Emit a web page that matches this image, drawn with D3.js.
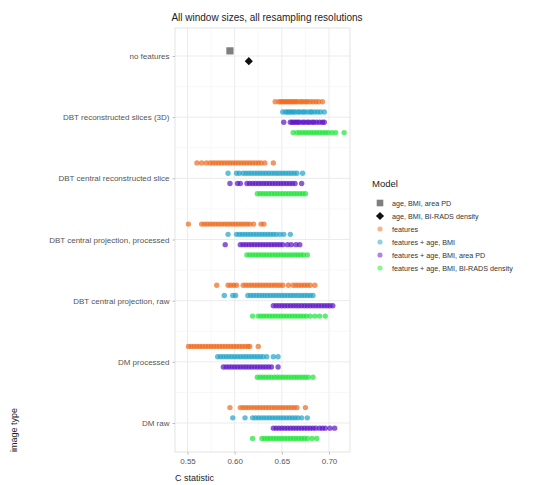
<!DOCTYPE html>
<html>
<head>
<meta charset="utf-8">
<script src="https://cdn.jsdelivr.net/npm/d3@7"></script>
<style>
  html, body { margin: 0; padding: 0; background: #fff; }
  svg { display: block; font-family: "Liberation Sans", Arial, sans-serif; }
</style>
</head>
<body>
<svg id="chart" width="551" height="485"></svg>
<script>
// Image types, top to bottom
const categories = [
  "no features",
  "DBT reconstructed slices (3D)",
  "DBT central reconstructed slice",
  "DBT central projection, processed",
  "DBT central projection, raw",
  "DM processed",
  "DM raw"
];

const modelNames = [
  "age, BMI, area PD",
  "age, BMI, BI-RADS density",
  "features",
  "features + age, BMI",
  "features + age, BMI, area PD",
  "features + age, BMI, BI-RADS density"
];
const modelColors = ["#7f7f7f", "#111111", "#ee6a1c", "#1fa3c9", "#5b12c7", "#1be534"];

const xTicks = [0.55, 0.60, 0.65, 0.70];

// Baseline models without image features
const baseAreaPD = [0.595];
const baseBIRADS = [0.615];

// C statistics per image type (rows 2..7), one value per window size / resampling resolution
const features = [
  [0.643,0.647,0.649,0.651,0.653,0.655,0.657,0.659,0.661,0.663,0.665,0.667,0.670,0.672,0.675,0.677,0.680,0.683,0.686,0.689,0.693],
  [0.560,0.565,0.570,0.574,0.577,0.580,0.583,0.586,0.589,0.592,0.595,0.598,0.601,0.604,0.607,0.610,0.613,0.616,0.619,0.622,0.625,0.628,0.632,0.641],
  [0.551,0.565,0.568,0.571,0.574,0.577,0.580,0.583,0.586,0.589,0.592,0.595,0.598,0.601,0.604,0.607,0.610,0.613,0.616,0.620,0.628,0.631],
  [0.581,0.593,0.596,0.599,0.602,0.609,0.612,0.615,0.618,0.621,0.624,0.627,0.630,0.633,0.636,0.639,0.642,0.645,0.648,0.651,0.657,0.662,0.665,0.668,0.671,0.674,0.677,0.680,0.685],
  [0.551,0.554,0.557,0.560,0.563,0.566,0.569,0.572,0.575,0.578,0.581,0.584,0.587,0.590,0.593,0.596,0.599,0.602,0.605,0.608,0.611,0.614,0.616,0.625],
  [0.595,0.606,0.609,0.612,0.615,0.618,0.621,0.624,0.627,0.630,0.633,0.636,0.639,0.642,0.645,0.648,0.651,0.654,0.657,0.660,0.663,0.666,0.675]
];
const featAgeBMI = [
  [0.651,0.654,0.656,0.658,0.660,0.662,0.664,0.667,0.669,0.672,0.674,0.677,0.680,0.682,0.685,0.688,0.691,0.695],
  [0.593,0.602,0.605,0.609,0.612,0.615,0.618,0.621,0.624,0.627,0.630,0.633,0.636,0.639,0.642,0.645,0.648,0.651,0.654,0.657,0.660,0.663,0.666,0.672],
  [0.593,0.602,0.605,0.608,0.611,0.614,0.617,0.620,0.623,0.626,0.629,0.632,0.635,0.638,0.641,0.644,0.648,0.652,0.659],
  [0.589,0.598,0.601,0.614,0.617,0.620,0.623,0.626,0.629,0.632,0.635,0.638,0.641,0.644,0.647,0.650,0.653,0.656,0.659,0.662,0.665,0.668,0.671,0.674,0.677,0.680,0.683],
  [0.582,0.585,0.588,0.591,0.594,0.597,0.600,0.603,0.606,0.609,0.612,0.615,0.618,0.621,0.624,0.627,0.630,0.634,0.641,0.646],
  [0.598,0.611,0.619,0.622,0.625,0.628,0.631,0.634,0.637,0.640,0.643,0.646,0.649,0.652,0.655,0.658,0.661,0.664,0.667,0.671,0.677]
];
const featAgeBMIAreaPD = [
  [0.652,0.659,0.661,0.663,0.665,0.667,0.669,0.672,0.674,0.677,0.679,0.682,0.684,0.687,0.690,0.693,0.695],
  [0.595,0.603,0.606,0.613,0.616,0.619,0.622,0.625,0.628,0.631,0.634,0.637,0.640,0.643,0.646,0.649,0.652,0.655,0.658,0.661,0.664,0.671],
  [0.590,0.606,0.609,0.612,0.615,0.618,0.621,0.624,0.627,0.630,0.633,0.636,0.639,0.642,0.645,0.648,0.651,0.656,0.660,0.665,0.669],
  [0.641,0.644,0.647,0.650,0.653,0.656,0.659,0.662,0.665,0.668,0.671,0.674,0.677,0.680,0.683,0.686,0.689,0.692,0.695,0.698,0.701,0.704],
  [0.588,0.591,0.594,0.597,0.600,0.603,0.606,0.609,0.612,0.615,0.618,0.621,0.624,0.627,0.630,0.633,0.636,0.639,0.646],
  [0.641,0.644,0.647,0.650,0.653,0.656,0.659,0.662,0.665,0.668,0.671,0.674,0.677,0.680,0.683,0.686,0.690,0.693,0.696,0.701,0.706]
];
const featAgeBMIBIRADS = [
  [0.662,0.666,0.669,0.672,0.675,0.678,0.681,0.684,0.687,0.690,0.693,0.696,0.699,0.703,0.707,0.716],
  [0.624,0.627,0.630,0.633,0.636,0.639,0.642,0.645,0.648,0.651,0.654,0.657,0.660,0.663,0.666,0.669,0.672,0.675],
  [0.613,0.616,0.619,0.622,0.625,0.628,0.631,0.634,0.637,0.640,0.643,0.646,0.649,0.652,0.655,0.658,0.661,0.664,0.667,0.670,0.673,0.677],
  [0.619,0.625,0.628,0.631,0.634,0.637,0.640,0.643,0.646,0.649,0.652,0.655,0.658,0.661,0.664,0.667,0.670,0.673,0.676,0.680,0.685,0.690,0.696],
  [0.624,0.627,0.630,0.633,0.636,0.639,0.642,0.645,0.648,0.651,0.654,0.657,0.660,0.663,0.666,0.669,0.672,0.675,0.678,0.683],
  [0.619,0.629,0.632,0.635,0.638,0.641,0.644,0.647,0.650,0.653,0.656,0.659,0.662,0.665,0.668,0.671,0.674,0.677,0.682,0.687]
];

// Long-format table: one row per point
const rows = [];
baseAreaPD.forEach(v => rows.push({cat: categories[0], model: 0, slot: 0, n: 2, v}));
baseBIRADS.forEach(v => rows.push({cat: categories[0], model: 1, slot: 1, n: 2, v}));
[features, featAgeBMI, featAgeBMIAreaPD, featAgeBMIBIRADS].forEach((series, m) => {
  series.forEach((vals, ci) => {
    vals.forEach(v => rows.push({cat: categories[ci + 1], model: m + 2, slot: m, n: 4, v}));
  });
});

const svg = d3.select("#chart");
const panel = {left: 175, right: 350, top: 28, bottom: 452};

const x = d3.scaleLinear().domain([0.55, 0.70]).range([187.5, 329]);
const y = d3.scalePoint().domain(categories).range([56, 423]);
const slotW = y.step() * 0.168;
const yPos = d => y(d.cat) + (d.slot - (d.n - 1) / 2) * slotW;

// Panel border and grid
const g = svg.append("g");
const minorX = [0.575, 0.625, 0.675];
g.selectAll("line.minx").data(minorX).join("line")
  .attr("x1", d => x(d)).attr("x2", d => x(d))
  .attr("y1", panel.top).attr("y2", panel.bottom)
  .attr("stroke", "#f3f3f3").attr("stroke-width", 0.6);
g.selectAll("line.majx").data(xTicks).join("line")
  .attr("x1", d => x(d)).attr("x2", d => x(d))
  .attr("y1", panel.top).attr("y2", panel.bottom)
  .attr("stroke", "#e9e9e9").attr("stroke-width", 0.9);
const midY = categories.slice(1).map((c, i) => (y(c) + y(categories[i])) / 2);
g.selectAll("line.miny").data(midY).join("line")
  .attr("x1", panel.left).attr("x2", panel.right)
  .attr("y1", d => d).attr("y2", d => d)
  .attr("stroke", "#f3f3f3").attr("stroke-width", 0.6);
g.selectAll("line.majy").data(categories).join("line")
  .attr("x1", panel.left).attr("x2", panel.right)
  .attr("y1", d => y(d)).attr("y2", d => y(d))
  .attr("stroke", "#e9e9e9").attr("stroke-width", 0.9);
g.append("rect")
  .attr("x", panel.left).attr("y", panel.top)
  .attr("width", panel.right - panel.left).attr("height", panel.bottom - panel.top)
  .attr("fill", "none").attr("stroke", "#dcdcdc").attr("stroke-width", 0.8);

// Points
const pts = svg.append("g");
pts.selectAll("circle").data(rows.filter(d => d.model >= 2)).join("circle")
  .attr("cx", d => x(d.v)).attr("cy", d => yPos(d)).attr("r", 2.7)
  .attr("fill", d => modelColors[d.model]).attr("fill-opacity", 0.7);
pts.selectAll("rect").data(rows.filter(d => d.model === 0)).join("rect")
  .attr("x", d => x(d.v) - 3.6).attr("y", d => yPos(d) - 3.6)
  .attr("width", 7.2).attr("height", 7.2)
  .attr("fill", modelColors[0]);
const diamond = d3.symbol().type(d3.symbolDiamond2).size(42);
pts.selectAll("path").data(rows.filter(d => d.model === 1)).join("path")
  .attr("transform", d => `translate(${x(d.v)},${yPos(d)})`)
  .attr("d", diamond).attr("fill", modelColors[1]);

// Axes
const xAxis = svg.append("g").attr("transform", `translate(0,${panel.bottom})`)
  .call(d3.axisBottom(x).tickValues(xTicks).tickFormat(d3.format(".2f")).tickSize(2.5).tickPadding(4));
xAxis.select(".domain").remove();
xAxis.selectAll("line").attr("stroke", "#bdbdbd");
xAxis.selectAll("text").attr("fill", "#555").attr("font-size", 8).attr("font-family", "Liberation Sans, Arial, sans-serif");

const yAxis = svg.append("g").attr("transform", `translate(${panel.left},0)`)
  .call(d3.axisLeft(y).tickSize(2.5).tickPadding(3));
yAxis.select(".domain").remove();
yAxis.selectAll("line").attr("stroke", "#bdbdbd");
yAxis.selectAll("text").attr("fill", "#555").attr("font-size", 8).attr("font-family", "Liberation Sans, Arial, sans-serif");

// Titles
svg.append("text").attr("x", 267).attr("y", 21).attr("text-anchor", "middle")
  .attr("font-size", 10).attr("fill", "#222").text("All window sizes, all resampling resolutions");
svg.append("text").attr("x", panel.left).attr("y", 481)
  .attr("font-size", 9).attr("fill", "#222").text("C statistic");
svg.append("text").attr("transform", `translate(17,${panel.bottom}) rotate(-90)`)
  .attr("font-size", 9).attr("fill", "#222").text("image type");

// Legend
const leg = svg.append("g").attr("transform", "translate(372,0)");
leg.append("text").attr("x", 0).attr("y", 187).attr("font-size", 9.5).attr("fill", "#222").text("Model");
const legY = d3.scalePoint().domain(d3.range(modelNames.length)).range([203, 268]);
const items = leg.selectAll("g.item").data(modelNames).join("g")
  .attr("transform", (d, i) => `translate(8,${legY(i)})`);
items.each(function(d, i) {
  const it = d3.select(this);
  if (i === 0) it.append("rect").attr("x", -3.3).attr("y", -3.3).attr("width", 6.6).attr("height", 6.6).attr("fill", modelColors[0]);
  else if (i === 1) it.append("path").attr("d", diamond).attr("fill", modelColors[1]);
  else it.append("circle").attr("r", 2.6).attr("fill", modelColors[i]).attr("fill-opacity", 0.5);
});
items.append("text").attr("x", 12).attr("y", 2.6).attr("font-size", 7.2).attr("fill", "#333").text(d => d);
</script>
</body>
</html>
